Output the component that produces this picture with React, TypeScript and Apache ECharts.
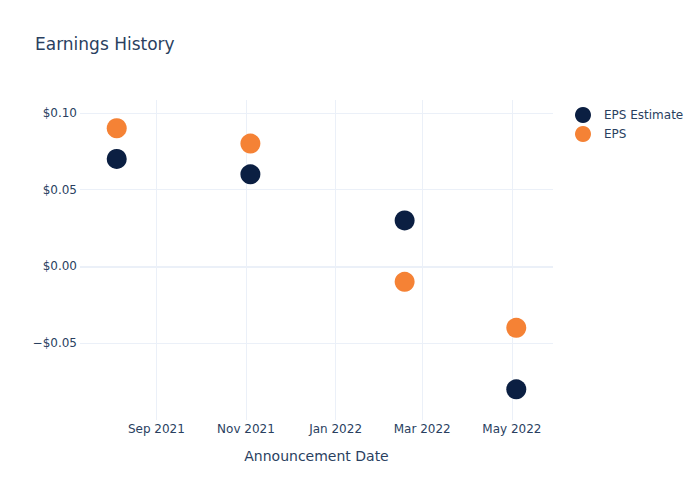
import React, { useEffect, useRef } from "react";
import * as echarts from "echarts";

const dates = ["2021-08-05", "2021-11-04", "2022-02-17", "2022-05-04"];
const epsEstimate = [0.07, 0.06, 0.03, -0.08];
const eps = [0.09, 0.08, -0.01, -0.04];
const xTicks = ["2021-09-01", "2021-11-01", "2022-01-01", "2022-03-01", "2022-05-01"];
const MONTHS = ["Jan", "Feb", "Mar", "Apr", "May", "Jun", "Jul", "Aug", "Sep", "Oct", "Nov", "Dec"];

const toTime = (s: string) => {
  const [y, m, d] = s.split("-").map(Number);
  return new Date(y, m - 1, d).getTime();
};

const FONT = "'DejaVu Sans', Verdana, Arial, sans-serif";
const TXT = "#2a3f5f";
const GRID = "#ebf0f8";

export default function App() {
  const ref = useRef<HTMLDivElement>(null);
  useEffect(() => {
    if (!ref.current) return;
    const chart = echarts.init(ref.current, undefined, { renderer: "svg" });
    const tickTimes = xTicks.map(toTime);
    chart.setOption({
      animation: false,
      backgroundColor: "#fff",
      textStyle: { fontFamily: FONT },
      title: {
        text: "Earnings History",
        left: 30,
        top: 30,
        textStyle: { fontFamily: FONT, fontSize: 17, fontWeight: "normal", color: TXT },
      },
      legend: {
        left: 570,
        top: 102,
        orient: "vertical",
        itemWidth: 28,
        itemHeight: 16,
        itemGap: 3,
        icon: "circle",
        textStyle: { fontFamily: FONT, fontSize: 12, color: TXT, padding: [0, 0, 0, 2] },
        data: ["EPS Estimate", "EPS"],
      },
      grid: { left: 80, right: 147, top: 100, bottom: 80, containLabel: false },
      xAxis: {
        type: "value",
        min: toTime("2021-07-11"),
        max: toTime("2022-05-29"),
        name: "Announcement Date",
        nameLocation: "middle",
        nameGap: 29,
        nameTextStyle: { fontFamily: FONT, fontSize: 14, color: TXT },
        axisLine: { show: false },
        axisTick: { show: false, customValues: tickTimes },
        axisLabel: {
          customValues: tickTimes,
          margin: 3,
          fontFamily: FONT,
          fontSize: 12,
          color: TXT,
          formatter: (v: number) => {
            const d = new Date(v);
            return `${MONTHS[d.getMonth()]} ${d.getFullYear()}`;
          },
        },
        splitLine: { show: true, lineStyle: { color: GRID, width: 1 } },
      },
      yAxis: {
        type: "value",
        min: -0.1,
        max: 0.1084,
        interval: 0.05,
        axisLine: { show: false },
        axisTick: { show: false },
        axisLabel: {
          margin: 3,
          fontFamily: FONT,
          fontSize: 12,
          color: TXT,
          showMinLabel: false,
          showMaxLabel: false,
          formatter: (v: number) => {
            if (Math.abs(v) < 1e-9) return "$0.00";
            return (v < 0 ? "\u2212$" : "$") + Math.abs(v).toFixed(2);
          },
        },
        splitLine: { show: true, showMinLine: false, showMaxLine: false, lineStyle: { color: GRID, width: 1 } },
      },
      series: [
        {
          name: "EPS Estimate",
          type: "scatter",
          symbolSize: 20,
          itemStyle: { color: "#0b1f42", opacity: 1 },
          data: dates.map((d, i) => [toTime(d), epsEstimate[i]]),
          markLine: {
            silent: true,
            symbol: "none",
            label: { show: false },
            lineStyle: { color: GRID, width: 2, type: "solid" },
            data: [{ yAxis: 0 }],
          },
          z: 3,
        },
        {
          name: "EPS",
          type: "scatter",
          symbolSize: 20,
          itemStyle: { color: "#f58235", opacity: 1 },
          data: dates.map((d, i) => [toTime(d), eps[i]]),
          z: 4,
        },
      ],
    });
    return () => chart.dispose();
  }, []);
  return <div ref={ref} style={{ position: "absolute", left: 0, top: 0, width: 700, height: 500 }} />;
}
